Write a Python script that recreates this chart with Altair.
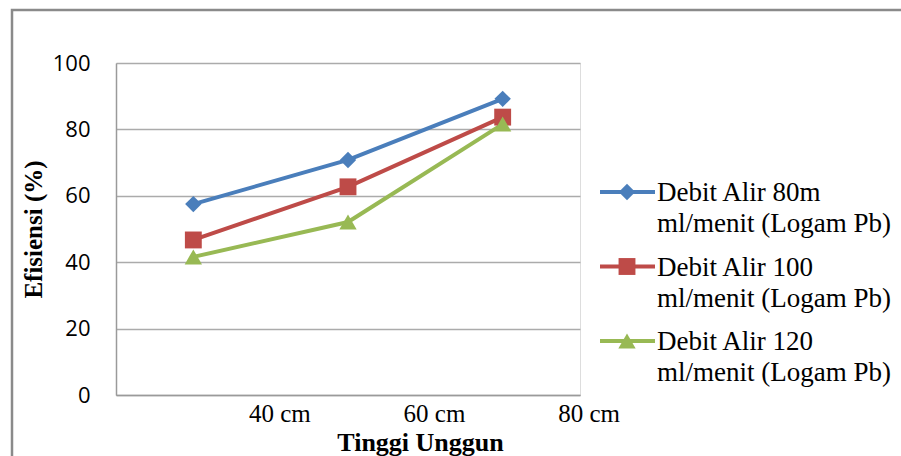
import altair as alt
import pandas as pd

# ---- data ----
heights = ["40 cm", "60 cm", "80 cm"]
series = [
    "Debit Alir 80m ml/menit (Logam Pb)",
    "Debit Alir 100 ml/menit (Logam Pb)",
    "Debit Alir 120 ml/menit (Logam Pb)",
]
legend_line1 = ["Debit Alir 80m", "Debit Alir 100", "Debit Alir 120"]
legend_line2 = ["ml/menit (Logam Pb)", "ml/menit (Logam Pb)", "ml/menit (Logam Pb)"]
eff_80 = [57.5, 70.8, 89.2]
eff_100 = [46.7, 62.7, 83.7]
eff_120 = [41.6, 52.1, 81.6]
y_ticks = [0, 20, 40, 60, 80, 100]

colors = ["#4A7EBB", "#BE4B48", "#98B954"]
shapes = ["diamond", "square", "triangle-up"]
sizes = [270, 300, 330]

SERIF = "'Liberation Serif', 'Times New Roman', Times, serif"

rows = []
for s, vals in zip(series, [eff_80, eff_100, eff_120]):
    for h, v in zip(heights, vals):
        rows.append({"height": h, "eff": v, "series": s})
df = pd.DataFrame(rows)
df_leg = pd.DataFrame({"series": series, "line1": legend_line1, "line2": legend_line2})

color = alt.Color("series:N", scale=alt.Scale(domain=series, range=colors), legend=None)
shape = alt.Shape("series:N", scale=alt.Scale(domain=series, range=shapes), legend=None)
size = alt.Size("series:N", scale=alt.Scale(domain=series, range=sizes), legend=None)

x_enc = alt.X(
    "height:N",
    sort=heights,
    scale=alt.Scale(domain=heights),
    axis=alt.Axis(
        title="Tinggi Unggun",
        labelAngle=0,
        labelOffset=86,
        labelFont=SERIF,
        labelFontSize=25,
        labelColor="black",
        labelPadding=6,
        ticks=False,
        domainColor="#9a9a9a",
        domainWidth=1.5,
        grid=False,
        titleFont=SERIF,
        titleFontSize=26,
        titleFontWeight="bold",
        titleColor="black",
        titleX=304,
        titleY=55,
        titleBaseline="alphabetic",
        titleAlign="center",
    ),
)
y_enc = alt.Y(
    "eff:Q",
    scale=alt.Scale(domain=[0, 100], nice=False),
    axis=alt.Axis(
        values=y_ticks,
        title="Efisiensi (%)",
        titleFont=SERIF,
        titleFontSize=25,
        titleFontWeight="bold",
        titleColor="black",
        titleX=-83,
        titleY=166,
        titleAngle=-90,
        titleAlign="center",
        titleBaseline="middle",
        labelFont="Open Sans",
        labelFontSize=22,
        labelColor="black",
        labelPadding=26,
        ticks=False,
        domainColor="#9a9a9a",
        domainWidth=1.5,
        grid=True,
        gridColor="#ababab",
        gridWidth=1.3,
    ),
)

base = alt.Chart(df)
lines = base.mark_line(strokeWidth=4).encode(x=x_enc, y=y_enc, color=color)
points = base.mark_point(filled=True, opacity=1).encode(
    x=x_enc, y=y_enc, color=color, shape=shape, size=size
)
main = alt.layer(lines, points)

# legend drawn at the right
leg_y = alt.Y(
    "series:N",
    scale=alt.Scale(type="point", domain=series, range=[129, 278], padding=0),
    axis=None,
)
leg_base = alt.Chart(df_leg)
leg_rule = leg_base.mark_rule(strokeWidth=4).encode(
    x=alt.value(484), x2=alt.value(539), y=leg_y, color=color
)
leg_pt = leg_base.mark_point(filled=True, opacity=1).encode(
    x=alt.value(511), y=leg_y, color=color, shape=shape, size=size
)
leg_t1 = leg_base.mark_text(
    align="left", baseline="middle", font=SERIF, fontSize=27, color="black", dy=1
).encode(x=alt.value(541), y=leg_y, text="line1:N")
leg_t2 = leg_base.mark_text(
    align="left", baseline="middle", font=SERIF, fontSize=27, color="black", dy=32
).encode(x=alt.value(541), y=leg_y, text="line2:N")
legend = alt.layer(leg_rule, leg_pt, leg_t1, leg_t2)

frame = alt.Chart(pd.DataFrame({"a": [0]})).mark_rect(
    fillOpacity=0, stroke="#8a8a8a", strokeWidth=2.5
).encode(x=alt.value(-104), x2=alt.value(820), y=alt.value(-53), y2=alt.value(420))

chart = (
    alt.layer(frame, main, legend)
    .resolve_scale(y="independent")
    .properties(
        width=464,
        height=332,
        autosize=alt.AutoSizeParams(type="none"),
        padding={"left": 116, "top": 63, "right": 321, "bottom": 61},
    )
    .configure_view(stroke=None)
    .configure(background="white")
)

chart.save("out.html", embed_options={"renderer": "svg", "actions": False})
